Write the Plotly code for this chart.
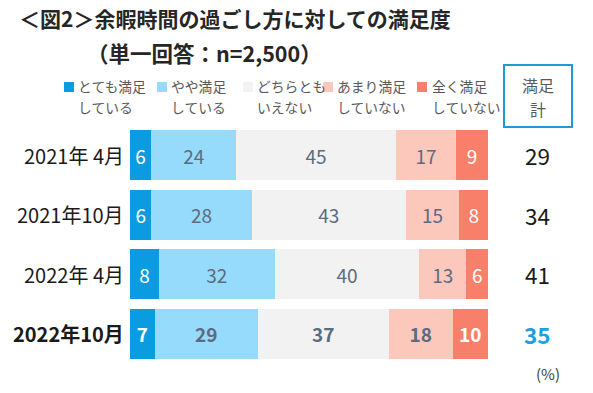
import plotly.graph_objects as go

# ---- data ----
periods = ["2021年 4月", "2021年10月", "2022年 4月", "2022年10月"]
series_names = ["とても満足<br>している", "やや満足<br>している", "どちらとも<br>いえない",
                "あまり満足<br>していない", "全く満足<br>していない"]
very_satisfied = [6, 6, 8, 7]
somewhat_satisfied = [24, 28, 32, 29]
neutral = [45, 43, 40, 37]
somewhat_unsatisfied = [17, 15, 13, 18]
very_unsatisfied = [9, 8, 6, 10]
satisfied_total = [29, 34, 41, 35]

title_line1 = "＜図2＞余暇時間の過ごし方に対しての満足度"
title_line2 = "（単一回答：n=2,500）"
box_label = ["満足", "計"]
unit_label = "(%)"

# ---- style ----
colors = ["#0a9be0", "#97dbfc", "#f2f2f2", "#fcc8bc", "#f87f69"]
text_colors = ["#ffffff", "#5b6b80", "#5b6b80", "#5b6b80", "#ffffff"]
FONT = "Noto Sans CJK JP"
W, H = 593, 393

series = [very_satisfied, somewhat_satisfied, neutral, somewhat_unsatisfied, very_unsatisfied]
row_sums = [sum(s[i] for s in series) for i in range(len(periods))]
last = len(periods) - 1

fig = go.Figure()
for k, vals in enumerate(series):
    xs = [v / row_sums[i] * 100 for i, v in enumerate(vals)]
    txt = [f"<b>{v}</b>" if i == last else str(v) for i, v in enumerate(vals)]
    fig.add_trace(go.Bar(
        x=xs, y=periods, orientation="h",
        marker=dict(color=colors[k], line=dict(width=0)),
        text=txt, textposition="inside", insidetextanchor="middle",
        textangle=0, constraintext="none",
        textfont=dict(family=FONT, size=19, color=text_colors[k]),
        name=series_names[k], showlegend=False, hoverinfo="skip",
    ))

def px(x):
    return x / W

def py(y):
    return 1 - y / H

annotations = []
shapes = []

# category labels and totals
for i, p in enumerate(periods):
    annotations.append(dict(
        x=px(126), xref="paper", y=p, yref="y", xanchor="right", yanchor="middle",
        text=f"<b>{p}</b>" if i == last else p, showarrow=False,
        font=dict(family=FONT, size=20, color="#1a1a1a"),
    ))
    annotations.append(dict(
        x=px(537), xref="paper", y=p, yref="y", xanchor="center", yanchor="middle",
        text=f"<b>{satisfied_total[i]}</b>" if i == last else str(satisfied_total[i]),
        showarrow=False,
        font=dict(family=FONT, size=22.5, color="#1ba1e2" if i == last else "#1a1a1a"),
    ))

# title
annotations.append(dict(x=px(17), y=py(35), xref="paper", yref="paper", xanchor="left",
                        yanchor="bottom", text=f"<b>{title_line1}</b>", showarrow=False,
                        font=dict(family=FONT, size=21, color="#262626")))
annotations.append(dict(x=px(85), y=py(35), xref="paper", yref="paper", xanchor="left",
                        yanchor="top", text=f"<b>{title_line2}</b>", showarrow=False,
                        font=dict(family=FONT, size=21.5, color="#262626")))

# legend
sq_x = [64, 157, 243, 323, 417]
tx_x = [76, 169, 255, 335, 430]
for k, name in enumerate(series_names):
    shapes.append(dict(type="rect", xref="paper", yref="paper",
                       x0=px(sq_x[k]), x1=px(sq_x[k] + 10), y0=py(92), y1=py(82),
                       fillcolor=colors[k], line=dict(width=0)))
    for j, line in enumerate(name.split("<br>")):
        annotations.append(dict(x=px(tx_x[k]), y=py(86 + 20.5 * j), xref="paper", yref="paper",
                                xanchor="left", yanchor="middle", text=line, showarrow=False,
                                font=dict(family=FONT, size=13.8, color="#595959")))

# 満足計 box
shapes.append(dict(type="rect", xref="paper", yref="paper",
                   x0=px(504), x1=px(572), y0=py(127), y1=py(65),
                   line=dict(color="#1e9bd7", width=2), fillcolor="rgba(0,0,0,0)"))
for j, line in enumerate(box_label):
    annotations.append(dict(x=px(538), y=py(85.5 + 23.4 * j), xref="paper", yref="paper",
                            xanchor="center", yanchor="middle", text=line, showarrow=False,
                            font=dict(family=FONT, size=16, color="#595959")))

annotations.append(dict(x=px(548), y=py(373), xref="paper", yref="paper",
                        xanchor="center", yanchor="middle", text=unit_label, showarrow=False,
                        font=dict(family=FONT, size=15, color="#404040")))

fig.update_layout(
    width=W, height=H, margin=dict(l=0, r=0, t=0, b=0),
    paper_bgcolor="white", plot_bgcolor="white",
    barmode="stack", bargap=0.158,
    xaxis=dict(domain=[px(130), px(488)], range=[0, 100], visible=False, fixedrange=True),
    yaxis=dict(domain=[py(363.7), py(125.3)], autorange="reversed", visible=False,
               fixedrange=True),
    annotations=annotations, shapes=shapes,
    font=dict(family=FONT),
)

fig.write_html("out.html", config={"displayModeBar": False},
               post_script="document.body.style.margin='0';document.body.style.padding='0';")
